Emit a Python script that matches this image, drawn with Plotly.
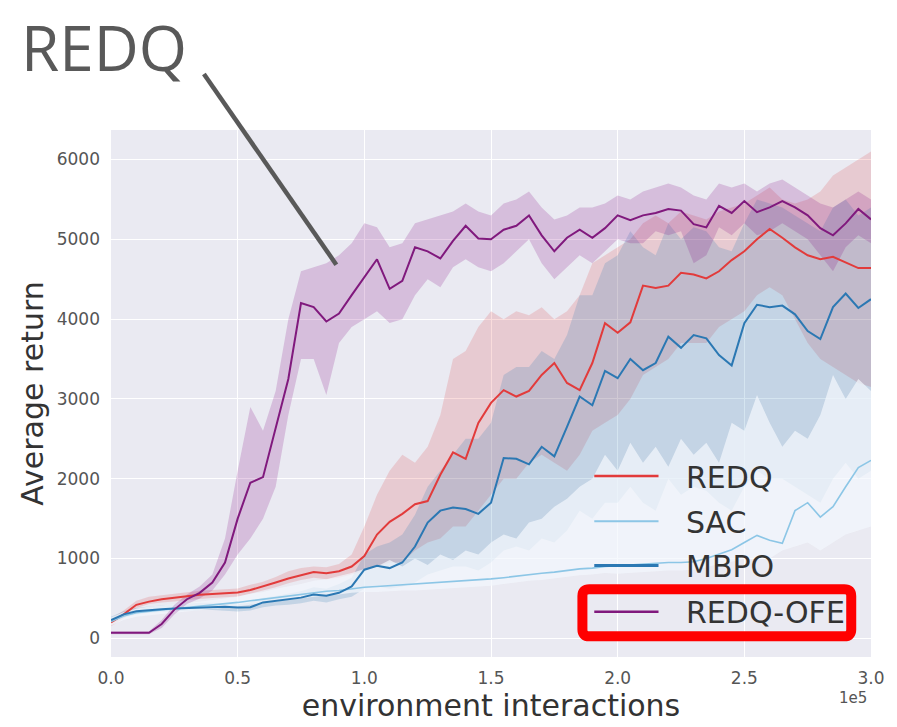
import plotly.graph_objects as go

# ---------------- data (x in environment interactions) ----------------
steps = [i * 5000 for i in range(61)]

x_tick_vals = [0, 50000, 100000, 150000, 200000, 250000, 300000]
x_tick_text = ["0.0", "0.5", "1.0", "1.5", "2.0", "2.5", "3.0"]
y_tick_vals = [0, 1000, 2000, 3000, 4000, 5000, 6000]
y_tick_text = ["0", "1000", "2000", "3000", "4000", "5000", "6000"]

legend_names = ["REDQ", "SAC", "MBPO", "REDQ-OFE"]

redq_mean = [200, 300, 420, 460, 490, 510, 530, 545, 555, 565, 575, 605, 650, 700, 750, 790,
             830, 815, 840, 900, 1030, 1300, 1460, 1560, 1680, 1720, 2050, 2330, 2250, 2700,
             2950, 3110, 3030, 3100, 3300, 3450, 3200, 3110, 3450, 3950, 3830, 3960, 4420, 4390,
             4420, 4580, 4560, 4510, 4600, 4740, 4850, 5000, 5130, 5020, 4900, 4800, 4750, 4780,
             4710, 4640, 4640]
redq_low = [150, 250, 380, 430, 450, 460, 480, 495, 505, 515, 525, 560, 600, 640, 690, 730,
            760, 740, 760, 800, 850, 900, 950, 950, 1100, 1200, 1250, 1400, 1400, 1600,
            1800, 2000, 2000, 2200, 2300, 2200, 2100, 2300, 2600, 2700, 2800, 3000, 3300, 3400,
            3500, 3700, 3700, 3700, 3900, 4000, 4100, 4300, 4400, 4300, 4000, 3700, 3500, 3400,
            3300, 3200, 3150]
redq_high = [250, 350, 470, 520, 540, 560, 580, 595, 605, 615, 625, 670, 710, 770, 840, 880,
             900, 890, 930, 1050, 1400, 1800, 2100, 2300, 2200, 2400, 2800, 3500, 3600, 3900,
             4100, 4000, 4100, 4050, 4150, 4000, 4100, 4300, 4700, 4800, 4900, 5000, 5200, 5300,
             5200, 5350, 5300, 5250, 5350, 5400, 5450, 5550, 5650, 5500, 5450, 5500, 5600, 5800,
             5900, 6000, 6100]

sac_mean = [210, 280, 320, 340, 355, 370, 385, 400, 415, 430, 450, 470, 490, 510, 530, 550,
            570, 590, 600, 620, 640, 650, 660, 670, 680, 690, 700, 710, 720, 735,
            745, 760, 780, 800, 815, 830, 850, 870, 880, 900, 910, 920, 930, 940,
            950, 950, 960, 1000, 1060, 1110, 1200, 1290, 1230, 1190, 1600, 1700, 1520, 1650,
            1900, 2140, 2230]
sac_low = [160, 230, 270, 290, 305, 320, 335, 350, 365, 380, 400, 420, 440, 460, 480, 500,
           520, 540, 550, 570, 580, 580, 590, 600, 600, 610, 620, 630, 640, 650,
           660, 680, 700, 720, 730, 750, 770, 790, 800, 820, 810, 820, 830, 840,
           850, 850, 860, 890, 930, 960, 1000, 1000, 1000, 1100, 1150, 1200, 1100, 1200,
           1300, 1350, 1400]
sac_high = [260, 330, 370, 400, 410, 430, 440, 460, 480, 500, 520, 560, 580, 620, 650, 680,
            720, 740, 780, 820, 870, 900, 980, 900, 1000, 920, 1050, 980, 1100, 1050,
            1200, 1300, 1250, 1450, 1500, 1650, 1750, 1900, 2000, 2300, 2100, 2450, 2200, 2400,
            2150, 2500, 2300, 2450, 2200, 2700, 2600, 3050, 2700, 2400, 2600, 2500, 2800, 3300,
            3000, 3250, 3100]

mbpo_mean = [230, 300, 340, 355, 365, 375, 380, 390, 395, 395, 385, 390, 450, 470, 490, 510,
             550, 535, 570, 650, 860, 910, 880, 950, 1150, 1450, 1600, 1640, 1620, 1560,
             1700, 2260, 2250, 2180, 2400, 2280, 2650, 3030, 2920, 3350, 3260, 3500, 3360, 3450,
             3780, 3640, 3800, 3760, 3550, 3420, 3950, 4180, 4150, 4170, 4060, 3850, 3750, 4150,
             4320, 4140, 4250]
mbpo_low = [190, 260, 300, 320, 330, 340, 350, 355, 355, 345, 335, 350, 390, 410, 420, 440,
            470, 450, 490, 520, 620, 650, 620, 650, 700, 800, 850, 900, 900, 850,
            950, 1100, 1150, 1100, 1250, 1200, 1350, 1600, 1500, 1700, 1700, 1900, 1700, 1600,
            2000, 1800, 1900, 1850, 1700, 1600, 1900, 2100, 2000, 2000, 1900, 1800, 1700, 2000,
            2200, 2000, 2100]
mbpo_high = [270, 340, 380, 400, 410, 420, 430, 445, 445, 435, 425, 450, 510, 530, 560, 590,
             640, 620, 680, 760, 1050, 1150, 1200, 1300, 1550, 1900, 2100, 2300, 2500, 2500,
             2700, 3300, 3400, 3400, 3600, 3500, 3800, 4300, 4300, 4700, 4800, 5100, 4900, 4800,
             5200, 5000, 5150, 5100, 4900, 4850, 5200, 5500, 5450, 5400, 5300, 5200, 5100, 5400,
             5500, 5300, 5400]

ofe_mean = [70, 70, 70, 70, 180, 360, 490, 570, 700, 950, 1500, 1950, 2020, 2650, 3250, 4200,
            4150, 3970, 4070, 4300, 4520, 4750, 4380, 4480, 4900, 4850, 4760, 4980, 5170, 5010,
            5000, 5120, 5170, 5300, 5050, 4850, 5020, 5120, 5020, 5140, 5300, 5240, 5300, 5330,
            5380, 5360, 5190, 5150, 5420, 5330, 5480, 5340, 5400, 5480, 5400, 5300, 5140, 5050,
            5200, 5380, 5250]
ofe_low = [50, 50, 50, 50, 130, 300, 430, 500, 600, 800, 1050, 1250, 1500, 1900, 2800, 3500,
           3500, 3050, 3700, 3900, 4000, 4100, 3950, 4000, 4300, 4500, 4400, 4650, 4750, 4650,
           4600, 4700, 4850, 5000, 4700, 4500, 4650, 4800, 4700, 4850, 5000, 4950, 4950, 5100,
           5050, 5100, 4700, 4800, 5150, 5050, 5200, 5050, 5100, 5200, 5100, 5000, 4800, 4600,
           4900, 5050, 4950]
ofe_high = [90, 90, 90, 90, 230, 420, 550, 650, 800, 1250, 2100, 2900, 2600, 3100, 4000, 4600,
            4650, 4700, 4800, 4950, 5200, 5150, 4900, 4950, 5200, 5250, 5300, 5350, 5450, 5350,
            5300, 5450, 5500, 5600, 5400, 5250, 5300, 5400, 5400, 5450, 5550, 5500, 5600, 5650,
            5700, 5650, 5550, 5500, 5700, 5650, 5700, 5600, 5700, 5750, 5650, 5550, 5450, 5400,
            5500, 5600, 5500]

# ---------------- styles ----------------
RED = "#e23b3b"
SAC_C = "#8cc6e6"
BLUE = "#2b78b3"
PURPLE = "#80197d"

fig = go.Figure()


def band(low, high, fillcolor):
    fig.add_trace(go.Scatter(x=steps, y=low, mode="lines", line=dict(width=0),
                             hoverinfo="skip", showlegend=False))
    fig.add_trace(go.Scatter(x=steps, y=high, mode="lines", line=dict(width=0),
                             fill="tonexty", fillcolor=fillcolor,
                             hoverinfo="skip", showlegend=False))


band(redq_low, redq_high, "rgba(220,45,45,0.17)")
band(mbpo_low, mbpo_high, "rgba(44,123,182,0.20)")
band(sac_low, sac_high, "rgba(242,247,252,0.72)")
band(ofe_low, ofe_high, "rgba(128,0,128,0.19)")

fig.add_trace(go.Scatter(x=steps, y=redq_mean, mode="lines", name=legend_names[0],
                         line=dict(color=RED, width=2), showlegend=False))
fig.add_trace(go.Scatter(x=steps, y=sac_mean, mode="lines", name=legend_names[1],
                         line=dict(color=SAC_C, width=1.6), showlegend=False))
fig.add_trace(go.Scatter(x=steps, y=mbpo_mean, mode="lines", name=legend_names[2],
                         line=dict(color=BLUE, width=2), showlegend=False))
fig.add_trace(go.Scatter(x=steps, y=ofe_mean, mode="lines", name=legend_names[3],
                         line=dict(color=PURPLE, width=2), showlegend=False))

# ---------------- layout ----------------
W, H = 897, 727
L, T = 111, 130
R = W - 880
B = H - 666
PW, PH = W - L - R, H - T - B


def px(xp):
    return (xp - L) / PW


def py(yp):
    return (H - B - yp) / PH


fig.update_layout(
    width=W, height=H,
    margin=dict(l=L, r=R, t=T, b=B),
    paper_bgcolor="white",
    plot_bgcolor="#EAEAF2",
    showlegend=False,
    font=dict(family="DejaVu Sans", color="#555555"),
)
fig.update_xaxes(
    range=[0, 300000], tickvals=x_tick_vals, ticktext=x_tick_text,
    showgrid=True, gridcolor="white", gridwidth=1.2, zeroline=False, showline=False,
    ticks="", ticklabelstandoff=9, tickfont=dict(size=17, color="#555555"),
    title=dict(text="environment interactions", font=dict(size=30, color="#333333"), standoff=6),
)
fig.update_yaxes(
    range=[-234, 6370], tickvals=y_tick_vals, ticktext=y_tick_text,
    showgrid=True, gridcolor="white", gridwidth=1.2, zeroline=False, showline=False,
    ticks="", ticklabelstandoff=10, tickfont=dict(size=17, color="#555555"),
    title=dict(text="Average return", font=dict(size=30, color="#333333"), standoff=4),
)

shapes = []
annotations = []

# legend (manual, to match the long sample lines)
legend_colors = [RED, SAC_C, BLUE, PURPLE]
legend_widths = [2.5, 2, 3, 2.5]
legend_rows = [482, 528, 573, 620]
for name, col, lw, yr in zip(legend_names, legend_colors, legend_widths, legend_rows):
    shapes.append(dict(type="line", xref="paper", yref="paper",
                       x0=px(600), x1=px(665), y0=py(yr), y1=py(yr),
                       line=dict(color=col, width=lw)))
    annotations.append(dict(text=name, xref="paper", yref="paper", x=px(691), y=py(yr + 1),
                            xanchor="left", yanchor="middle", showarrow=False,
                            font=dict(family="DejaVu Sans", size=30, color="#333333")))

# red rounded highlight box around REDQ-OFE
x0, x1, y0, y1 = px(588), px(860), py(645), py(597)
rx, ry = 7 / PW, 7 / PH
path = (f"M {x0+rx},{y0} L {x1-rx},{y0} Q {x1},{y0} {x1},{y0+ry} "
        f"L {x1},{y1-ry} Q {x1},{y1} {x1-rx},{y1} L {x0+rx},{y1} "
        f"Q {x0},{y1} {x0},{y1-ry} L {x0},{y0+ry} Q {x0},{y0} {x0+rx},{y0} Z")
shapes.append(dict(type="path", xref="paper", yref="paper", path=path,
                   line=dict(color="#ff0000", width=10), fillcolor="rgba(0,0,0,0)"))

# callout line from the big label
shapes.append(dict(type="line", xref="paper", yref="paper",
                   x0=px(205), y0=py(73), x1=px(339), y1=py(267),
                   line=dict(color="#595959", width=4.5)))

annotations.append(dict(text="REDQ", xref="paper", yref="paper", x=px(18), y=py(1),
                        xanchor="left", yanchor="top", showarrow=False,
                        font=dict(family="Open Sans", size=62, color="#595959")))
annotations.append(dict(text="1e5", xref="paper", yref="paper", x=px(862), y=py(708),
                        xanchor="center", yanchor="middle", showarrow=False,
                        font=dict(family="DejaVu Sans", size=15, color="#555555")))

fig.update_layout(shapes=shapes, annotations=annotations)

fig.write_html("out.html")
